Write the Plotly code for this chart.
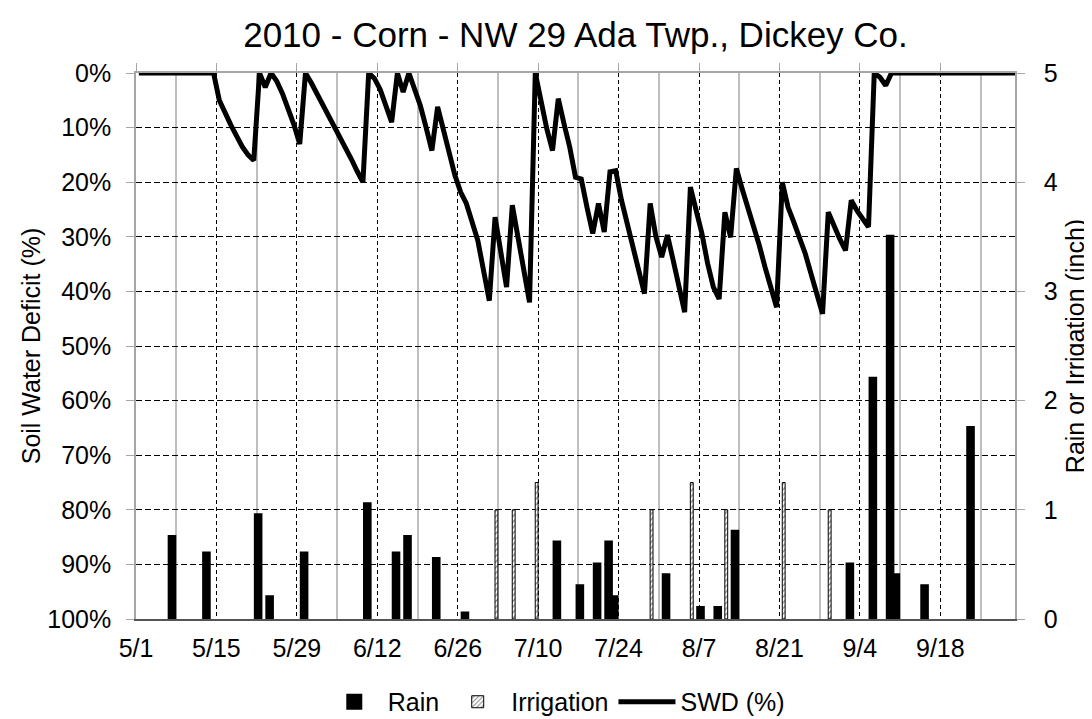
import datetime as dt
import plotly.graph_objects as go

# ---------------- data ----------------
start = dt.date(2010, 5, 1)
swd_pct = [
    0, 0, 0, 0, 0, 0, 0, 0, 0, 0, 0, 0, 0, 0,            # 5/1 - 5/14
    5, 7.5, 9.5, 11.5, 13.5, 15, 16,                      # 5/15 - 5/21
    0, 2.6, 0,                                            # 5/22 - 5/24
    1.5, 3.8, 6.5, 9.5, 13,                               # 5/25 - 5/29
    0,                                                    # 5/30
    1.8, 3.8, 5.7, 7.5, 9.4, 11.5, 13.5, 15.8, 18, 20,    # 5/31 - 6/9
    0, 1, 3, 5.9, 9,                                      # 6/10 - 6/14
    0, 3.5, 0,                                            # 6/15 - 6/17
    3, 6, 10, 14.2,                                       # 6/18 - 6/21
    6.2, 10.4, 14.5, 18.7, 21.8, 23.9, 27.3, 30.7, 36.2, 41.7,  # 6/22 - 7/1
    26.4, 32.6, 39.2, 24.2, 29.8, 35.9, 42,               # 7/2 - 7/8
    0, 5.6, 10.2, 14.2, 4.7, 9.3, 13.6, 19.1, 19.4,       # 7/9 - 7/17
    24.6, 29.4, 23.9, 29.1, 18.1, 17.9,                   # 7/18 - 7/23
    23.3, 27.6, 31.9, 36.2, 40.4,                         # 7/24 - 7/28
    23.9, 30, 33.7, 29.7, 34.3, 39.2, 43.8,               # 7/29 - 8/4
    20.9, 24.9, 29.4, 34.9, 39.2, 41.4,                   # 8/5 - 8/10
    25.5, 30.1,                                           # 8/11 - 8/12
    17.5, 21.2, 24.6, 28.2, 31.6, 35.6, 39.2, 42.9,       # 8/13 - 8/20
    20, 24.6, 27.3, 30.1, 33.1, 36.8, 40.4, 44.1,         # 8/21 - 8/28
    25.5, 28.2, 30.4, 32.5,                               # 8/29 - 9/1
    23.3, 25.2, 26.7, 28.2,                               # 9/2 - 9/5
    0, 0.8, 2.3, 0,                                       # 9/6 - 9/9
    0, 0, 0, 0, 0, 0, 0, 0, 0, 0, 0,                      # 9/10 - 9/20
    0, 0, 0, 0, 0, 0, 0, 0, 0, 0, 0,                      # 9/21 - 10/1
]
swd_dates = [start + dt.timedelta(days=i) for i in range(len(swd_pct))]

rain_dates = ["2010-05-07", "2010-05-13", "2010-05-22", "2010-05-24", "2010-05-30",
              "2010-06-10", "2010-06-15", "2010-06-17", "2010-06-22", "2010-06-27",
              "2010-07-13", "2010-07-17", "2010-07-20", "2010-07-22", "2010-07-23",
              "2010-08-01", "2010-08-07", "2010-08-10", "2010-08-13", "2010-09-02",
              "2010-09-06", "2010-09-09", "2010-09-10", "2010-09-15", "2010-09-23"]
rain_in = [0.75, 0.60, 0.95, 0.20, 0.60,
           1.05, 0.60, 0.75, 0.55, 0.05,
           0.70, 0.30, 0.50, 0.70, 0.20,
           0.40, 0.10, 0.10, 0.80, 0.50,
           2.20, 3.50, 0.40, 0.30, 1.75]

irr_dates = ["2010-07-02", "2010-07-05", "2010-07-09", "2010-07-29",
             "2010-08-05", "2010-08-11", "2010-08-21", "2010-08-29"]
irr_in = [1.0, 1.0, 1.25, 1.0, 1.25, 1.0, 1.25, 1.0]

left_ticks = list(range(0, 101, 10))
left_labels = [f"{v}%" for v in left_ticks]
right_ticks = [0, 1, 2, 3, 4, 5]

# ---------------- styling ----------------
DAY = 86400000
FONT = "Liberation Sans, Arial, sans-serif"
GRAY = "#a6a6a6"
FS = 25
x_range = ["2010-05-01", "2010-10-01"]

fig = go.Figure()

# SWD line on primary axes: x (top date axis) / y (left, reversed)
fig.add_trace(go.Scatter(
    x=swd_dates, y=swd_pct, name="SWD (%)",
    xaxis="x", yaxis="y",
    xperiod=DAY, xperiodalignment="middle",
    mode="lines", line=dict(color="black", width=5),
    legendrank=3,
))
# Bars on secondary axes: x2 (bottom date axis) / y2 (right)
fig.add_trace(go.Bar(
    x=rain_dates, y=rain_in, name="Rain",
    xaxis="x2", yaxis="y2",
    width=0.8 * DAY, offset=-0.14 * DAY,
    marker=dict(color="black", line=dict(color="black", width=4)),
    legendrank=1,
))
fig.add_trace(go.Bar(
    x=irr_dates, y=irr_in, name="Irrigation",
    xaxis="x2", yaxis="y2",
    width=0.5 * DAY, offset=0.49 * DAY,
    marker=dict(color="white",
                pattern=dict(shape="/", fgcolor="black", bgcolor="white", size=4, solidity=0.3),
                line=dict(color="black", width=1)),
    legendrank=2,
))

fig.update_layout(
    width=1084, height=711,
    margin=dict(l=128, r=77, t=65, b=100, autoexpand=False),
    paper_bgcolor="white", plot_bgcolor="white",
    font=dict(family=FONT, size=FS, color="black"),
    barmode="overlay",
    showlegend=True,
    title=dict(text="2010 - Corn - NW 29 Ada Twp., Dickey Co.",
               x=0.5, xref="paper", xanchor="center",
               y=0.962, yref="container", yanchor="middle",
               font=dict(family=FONT, size=35, color="black")),
    legend=dict(orientation="h", x=0.477, xanchor="center", y=-0.152, yanchor="middle",
                font=dict(family=FONT, size=FS), itemwidth=57,
                bgcolor="rgba(0,0,0,0)"),
    xaxis=dict(
        type="date", range=x_range, side="top", anchor="y",
        tick0="2010-05-01", dtick=14 * DAY,
        showticklabels=False, ticks="outside", ticklen=8, tickcolor=GRAY, tickwidth=1.3,
        showline=True, linecolor=GRAY, linewidth=1.5,
        showgrid=False, zeroline=False, automargin=False,
    ),
    xaxis2=dict(
        type="date", range=x_range, overlaying="x", side="bottom", anchor="y2",
        tick0="2010-05-01", dtick=14 * DAY, tickformat="%-m/%-d",
        ticks="", ticklabelstandoff=6,
        showline=True, linecolor="#555555", linewidth=1.5,
        showgrid=True, gridcolor="black", gridwidth=1.3, griddash="4px,3px",
        minor=dict(dtick=7 * DAY, tick0="2010-05-01", showgrid=True,
                   gridcolor="#bfbfbf", gridwidth=1.5, griddash="solid", ticks=""),
        zeroline=False, automargin=False,
    ),
    yaxis=dict(
        range=[100, 0], tickvals=left_ticks, ticktext=left_labels,
        ticks="outside", ticklen=8, tickcolor=GRAY, tickwidth=1.3, ticklabelstandoff=10,
        showline=True, linecolor=GRAY, linewidth=1.5,
        showgrid=True, gridcolor="black", gridwidth=1.3, griddash="6px,3px",
        zeroline=False, anchor="x", automargin=False,
        title=dict(text="Soil Water Deficit (%)", standoff=0,
                   font=dict(family=FONT, size=FS)),
    ),
    yaxis2=dict(
        range=[0, 5], tickvals=right_ticks, overlaying="y", side="right", anchor="x2",
        ticks="outside", ticklen=8, tickcolor=GRAY, tickwidth=1.3, ticklabelstandoff=14,
        showline=True, linecolor=GRAY, linewidth=1.5,
        showgrid=False, zeroline=False, automargin=False,
        title=dict(text="Rain or Irrigation (inch)", standoff=10,
                   font=dict(family=FONT, size=FS)),
    ),
)

fig.write_html("out.html")
